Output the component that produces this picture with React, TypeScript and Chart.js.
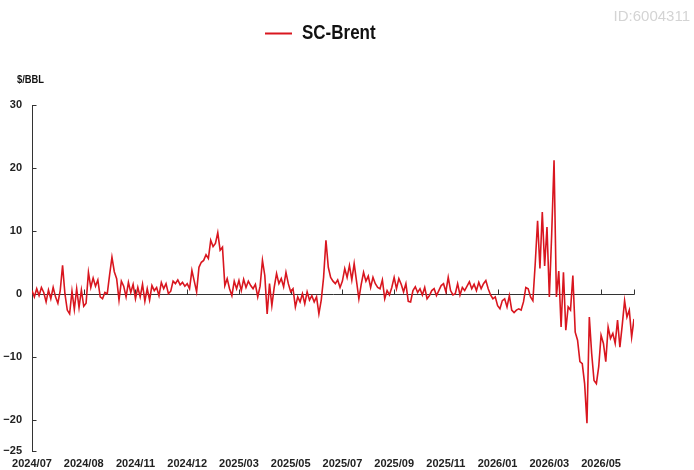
import React, { useEffect, useRef } from "react";
import { Chart, registerables } from "chart.js";

Chart.register(...registerables);

// ---- data ----
const seriesName = "SC-Brent";
const unitLabel = "$/BBL";
const watermark = "ID:6004311";
const tickLabels = [
  "2024/07", "2024/08", "2024/11", "2024/12", "2025/03", "2025/05",
  "2025/07", "2025/09", "2025/11", "2026/01", "2026/03", "2026/05",
];
const pointsPerLabel = 22;
const seg01 = [0.5, -0.5, 0.8, -0.3, 1.0, 0.2, -1.3, 0.6, -0.8, 1.0, -0.5, -1.5, 0.5, 4.5, 0, -2.6, -3.2, 0.4, -2.5, 0.8, -2.2, 0.6, -2.0];
const seg02 = [-1.5, 3.4, 1.0, 2.5, 1.2, 2.2, -0.5, -0.8, 0.2, 0.0, 3.0, 5.8, 3.5, 2.4, -1.0, 2.0, 1.2, -0.5, 1.8, 0.2, 1.5, -0.8];
const seg03 = [1.0, -0.5, 1.5, -1.2, 0.8, -1.0, 1.3, 0.5, 1.0, -0.3, 1.8, 0.8, 1.6, 0.0, 0.4, 2.0, 1.6, 2.2, 1.4, 1.8, 1.2, 1.6];
const seg04 = [0.8, 3.7, 2.0, 0.3, 4.2, 5.0, 5.3, 6.2, 5.6, 8.5, 7.5, 8.0, 9.7, 6.9, 7.4, 1.3, 2.4, 0.8, -0.3, 2.0, 0.8, 2.1];
const seg05 = [0.5, 2.3, 1.0, 2.0, 1.3, 0.8, 1.5, -0.5, 1.2, 5.3, 2.9, -3.2, 1.6, -1.9, 1.0, 3.2, 1.6, 2.4, 1.1, 3.4, 1.6, 0.3];
const seg06 = [0.8, -2.1, -0.5, -1.3, 0, -1.6, 0.3, -1.0, -0.3, -1.3, -0.5, -3.2, -1.0, 2.6, 8.5, 4.2, 2.6, 2.0, 1.6, 2.2, 1.0, 2.0];
const seg07 = [4.0, 2.6, 4.5, 2.2, 4.8, 2.0, -0.8, 1.5, 3.4, 2.0, 2.8, 1.0, 2.6, 1.6, 1.0, 0.8, 2.2, -0.8, 0.5, -0.2, 1.0, 2.6];
const seg08 = [0.8, 2.4, 1.5, 0.3, 1.6, -1.2, -1.3, 0.5, 1.1, 0.2, 0.8, -0.2, 1.0, -0.8, -0.3, 0.5, 0.8, -0.3, 0.5, 1.3, 1.6, 0.3];
const seg09 = [2.6, 0.5, -0.2, 0.0, 1.6, -0.2, 1.0, 0.5, 1.2, 1.9, 0.8, 1.5, 0.5, 1.8, 0.8, 1.6, 2.1, 0.8, -0.2, -0.8, -0.5, -1.9];
const seg10 = [-2.4, -1.1, -0.8, -2.1, -0.3, -2.6, -3.0, -2.6, -2.4, -2.6, -1.3, 1.0, 0.8, -0.5, -1.1, 4.8, 11.6, 4.0, 13.0, 4.4, 10.6, -0.5];
const seg11 = [9.5, 21.2, -0.5, 3.6, -5.3, 3.4, -5.8, -2.1, -2.6, 2.9, -6.1, -7.4, -10.8, -11.1, -14.3, -20.6, -3.7, -9.5, -13.8, -14.3, -11.6, -6.6];
const seg12 = [-7.9, -10.8, -5.3, -7.1, -6.3, -7.9, -4.2, -8.5, -5.0, -1.1, -3.7, -2.6, -6.9, -4.0];
const values = [...seg01, ...seg02, ...seg03, ...seg04, ...seg05, ...seg06, ...seg07, ...seg08, ...seg09, ...seg10, ...seg11, ...seg12];
const yMin = -25;
const yMax = 30;
const yStep = 10;

const SANS = "'Liberation Sans', Arial, sans-serif";
const RED = "#d9161f";
const AXIS = "#333333";

const axesPlugin = {
  id: "excelAxes",
  beforeDatasetsDraw(chart: any) {
    const { ctx, chartArea, scales } = chart;
    const xs = scales.x;
    const ys = scales.y;
    const left = Math.round(chartArea.left) + 0.5;
    const right = Math.round(chartArea.right) + 0.5;
    ctx.save();
    ctx.strokeStyle = AXIS;
    ctx.lineWidth = 1;
    ctx.beginPath();
    ctx.moveTo(left, Math.round(chartArea.top));
    ctx.lineTo(left, Math.round(chartArea.bottom) + 1);
    ctx.stroke();
    ys.ticks.forEach((t: any) => {
      const py = Math.round(ys.getPixelForValue(t.value)) + 0.5;
      ctx.beginPath();
      ctx.moveTo(left, py);
      ctx.lineTo(left + 4, py);
      ctx.stroke();
    });
    const zy = Math.round(ys.getPixelForValue(0)) + 0.5;
    ctx.beginPath();
    ctx.moveTo(left, zy);
    ctx.lineTo(right, zy);
    ctx.stroke();
    const marks = xs.ticks.map((t: any) => t.value).concat([xs.max]);
    marks.forEach((v: number) => {
      const px = Math.round(xs.getPixelForValue(v)) + 0.5;
      ctx.beginPath();
      ctx.moveTo(px, zy);
      ctx.lineTo(px, zy - 5);
      ctx.stroke();
    });
    ctx.restore();
  },
  afterDraw(chart: any) {
    const { ctx } = chart;
    ctx.save();
    ctx.strokeStyle = RED;
    ctx.lineWidth = 2;
    ctx.beginPath();
    ctx.moveTo(265, 33.5);
    ctx.lineTo(292, 33.5);
    ctx.stroke();
    ctx.fillStyle = "#111111";
    ctx.textBaseline = "middle";
    ctx.textAlign = "left";
    ctx.save();
    ctx.translate(302, 33);
    ctx.scale(0.85, 1);
    ctx.font = `bold 20px ${SANS}`;
    ctx.fillText(seriesName, 0, 0);
    ctx.restore();
    ctx.save();
    ctx.translate(17, 80);
    ctx.scale(0.85, 1);
    ctx.font = `bold 11px ${SANS}`;
    ctx.fillText(unitLabel, 0, 0);
    ctx.restore();
    ctx.fillStyle = "#d4d4d4";
    ctx.font = `15px ${SANS}`;
    ctx.textAlign = "right";
    ctx.fillText(watermark, 690, 17);
    ctx.restore();
  },
};

export default function App() {
  const ref = useRef<HTMLCanvasElement | null>(null);
  useEffect(() => {
    if (!ref.current) return;
    const chart = new Chart(ref.current, {
      type: "line",
      data: {
        labels: values.map((_, i) => i),
        datasets: [
          {
            label: seriesName,
            data: values,
            borderColor: RED,
            borderWidth: 1.6,
            pointRadius: 0,
            tension: 0,
            fill: false,
          },
        ],
      },
      options: {
        responsive: false,
        animation: false,
        devicePixelRatio: 1,
        layout: { padding: { top: 105, right: 60, bottom: 0, left: 0 } },
        plugins: { legend: { display: false }, tooltip: { enabled: false } },
        scales: {
          x: {
            type: "linear",
            min: 0,
            max: values.length - 1,
            grid: { display: false, drawTicks: false },
            border: { display: false },
            afterFit: (s: any) => { s.height = 19; },
            ticks: {
              stepSize: pointsPerLabel,
              includeBounds: false,
              autoSkip: false,
              maxRotation: 0,
              minRotation: 0,
              padding: 6,
              color: "#222222",
              font: { family: SANS, size: 11, weight: "bold" },
              callback: (v: any) => {
                const k = Math.round(Number(v) / pointsPerLabel);
                return Number(v) % pointsPerLabel === 0 ? tickLabels[k] ?? "" : "";
              },
            },
          },
          y: {
            min: yMin,
            max: yMax,
            grid: { display: false, drawTicks: false },
            border: { display: false },
            afterFit: (s: any) => { s.width = 32; },
            ticks: {
              stepSize: yStep,
              padding: 10,
              color: "#222222",
              font: { family: SANS, size: 11, weight: "bold" },
              callback: (v: any) => (Number(v) < 0 ? "\u2212" + Math.abs(Number(v)) : String(v)),
            },
          },
        },
      },
      plugins: [axesPlugin],
    });
    return () => chart.destroy();
  }, []);
  return (
    <div style={{ position: "fixed", left: 0, top: 0, width: 694, height: 470, background: "#ffffff" }}>
      <canvas ref={ref} width={694} height={470} style={{ display: "block" }} />
    </div>
  );
}
